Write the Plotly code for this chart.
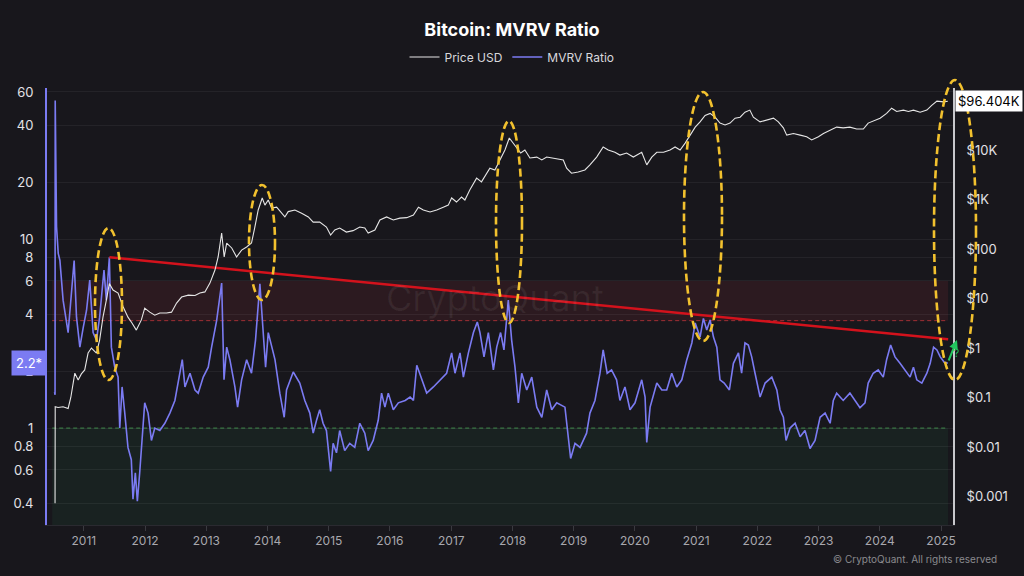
import math
import plotly.graph_objects as go

# ---------------- data ----------------
MVRV_DATES = [
    "2010-07-10", "2010-07-13", "2010-07-14", "2010-07-22", "2010-08-01", "2010-08-11", "2010-08-30",
    "2010-09-29", "2010-10-19", "2010-11-04", "2010-11-18", "2010-12-08", "2010-12-28", "2011-01-17",
    "2011-02-05", "2011-02-25", "2011-03-17", "2011-04-05", "2011-05-01", "2011-05-15", "2011-06-02",
    "2011-06-14", "2011-07-04", "2011-07-24", "2011-08-03", "2011-08-17", "2011-09-02", "2011-09-21",
    "2011-10-11", "2011-10-21", "2011-11-04", "2011-11-16", "2011-11-30", "2011-12-13", "2011-12-30",
    "2012-01-19", "2012-02-08", "2012-02-28", "2012-03-29", "2012-04-28", "2012-05-28", "2012-06-27",
    "2012-07-27", "2012-08-10", "2012-08-26", "2012-09-25", "2012-10-25", "2012-11-13", "2012-12-13",
    "2013-01-12", "2013-02-01", "2013-03-03", "2013-04-02", "2013-04-16", "2013-05-02", "2013-05-21",
    "2013-06-20", "2013-07-06", "2013-07-30", "2013-08-29", "2013-09-27", "2013-10-21", "2013-11-16",
    "2013-12-06", "2013-12-20", "2014-01-05", "2014-02-14", "2014-03-15", "2014-04-10", "2014-04-24",
    "2014-06-03", "2014-07-12", "2014-08-11", "2014-09-10", "2014-09-30", "2014-10-20", "2014-11-08",
    "2014-11-28", "2014-12-18", "2015-01-12", "2015-01-27", "2015-02-16", "2015-03-07", "2015-04-06",
    "2015-05-06", "2015-06-05", "2015-07-05", "2015-08-04", "2015-08-24", "2015-09-23", "2015-10-23",
    "2015-11-12", "2015-12-02", "2015-12-22", "2016-01-21", "2016-02-20", "2016-04-01", "2016-04-30",
    "2016-05-20", "2016-06-09", "2016-07-08", "2016-08-07", "2016-09-16", "2016-10-26", "2016-12-04",
    "2017-01-03", "2017-01-23", "2017-02-22", "2017-03-14", "2017-04-13", "2017-05-13", "2017-06-05",
    "2017-06-21", "2017-07-15", "2017-08-10", "2017-09-09", "2017-09-29", "2017-10-22", "2017-11-11",
    "2017-12-07", "2017-12-27", "2018-01-16", "2018-02-05", "2018-02-25", "2018-03-27", "2018-04-26",
    "2018-05-26", "2018-06-25", "2018-07-24", "2018-08-23", "2018-09-22", "2018-11-10", "2018-11-30",
    "2018-12-14", "2019-01-09", "2019-02-08", "2019-03-19", "2019-04-08", "2019-05-08", "2019-06-07",
    "2019-06-26", "2019-07-20", "2019-08-15", "2019-09-14", "2019-10-04", "2019-11-03", "2019-12-03",
    "2020-01-02", "2020-02-11", "2020-03-02", "2020-03-12", "2020-04-01", "2020-05-11", "2020-06-10",
    "2020-07-09", "2020-08-08", "2020-09-07", "2020-10-07", "2020-11-06", "2020-12-06", "2020-12-26",
    "2021-01-24", "2021-02-13", "2021-03-05", "2021-03-25", "2021-04-14", "2021-05-04", "2021-05-23",
    "2021-06-17", "2021-07-18", "2021-08-11", "2021-09-10", "2021-09-29", "2021-10-19", "2021-11-08",
    "2021-11-28", "2021-12-18", "2022-01-17", "2022-02-16", "2022-03-28", "2022-04-27", "2022-05-16",
    "2022-06-05", "2022-06-21", "2022-07-15", "2022-08-14", "2022-09-13", "2022-10-12", "2022-11-11",
    "2022-12-11", "2023-01-10", "2023-02-09", "2023-03-11", "2023-03-30", "2023-04-19", "2023-05-28",
    "2023-07-07", "2023-08-06", "2023-09-05", "2023-10-05", "2023-10-24", "2023-11-23", "2023-12-23",
    "2024-01-22", "2024-02-11", "2024-03-06", "2024-04-01", "2024-05-01", "2024-05-31", "2024-06-30",
    "2024-07-20", "2024-08-09", "2024-09-08", "2024-10-08", "2024-10-28", "2024-11-17", "2024-12-07",
    "2024-12-27", "2025-01-20", "2025-02-10",
]
MVRV_VALUES = [
    1.55, 1.5, 54, 11.6, 8.4, 7.7, 4.75,
    3.2, 5.2, 7.7, 3.86, 2.68, 3.4, 4.2,
    6.06, 3.2, 2.92, 3.86, 6.85, 4.75, 8.0,
    2.68, 2.1, 1.86, 1.0, 1.65, 1.2, 0.79,
    0.68, 0.42, 0.58, 0.41, 0.58, 0.83, 1.36,
    1.2, 0.86, 1.0, 0.97, 1.06, 1.2, 1.4,
    1.95, 2.3, 1.65, 1.95, 1.59, 1.53, 1.86,
    2.1, 2.68, 3.7, 5.85, 1.8, 2.68, 2.3,
    1.65, 1.29, 1.8, 2.3, 1.95, 2.92, 5.8,
    3.2, 2.1, 3.2, 2.3, 1.53, 1.14, 1.59,
    1.98, 1.73, 1.4, 1.2, 0.94, 1.1, 1.25,
    1.06, 0.97, 0.59, 0.83, 0.74, 0.97, 0.76,
    0.83, 0.79, 1.06, 0.94, 0.76, 0.86, 1.1,
    1.53, 1.29, 1.53, 1.25, 1.36, 1.4, 1.46,
    1.4, 2.15, 1.8, 1.53, 1.65, 1.8, 1.95,
    2.5, 1.95, 2.5, 1.86, 2.5, 3.2, 3.64,
    3.2, 2.38, 3.2, 2.03, 2.68, 3.2, 2.59,
    4.75, 2.92, 2.1, 1.36, 1.95, 1.59, 1.86,
    1.29, 1.14, 1.59, 1.25, 1.36, 1.29, 0.86,
    0.69, 0.83, 0.79, 0.94, 1.2, 1.4, 1.95,
    2.59, 1.95, 2.03, 1.8, 1.4, 1.65, 1.25,
    1.36, 1.8, 1.46, 0.84, 1.29, 1.73, 1.59,
    1.59, 1.95, 1.65, 1.8, 2.3, 2.82, 3.6,
    3.03, 3.8, 3.3, 3.73, 3.03, 2.68, 1.8,
    1.73, 1.59, 2.2, 2.5, 1.95, 2.82, 2.75,
    2.38, 1.95, 1.46, 1.73, 1.86, 1.59, 1.25,
    1.14, 0.86, 1.0, 1.06, 0.9, 0.97, 0.78,
    0.86, 1.14, 1.2, 1.06, 1.4, 1.53, 1.4,
    1.53, 1.4, 1.28, 1.36, 1.73, 1.95, 2.03,
    1.86, 2.3, 2.75, 2.38, 2.2, 2.03, 1.86,
    2.1, 1.8, 1.73, 1.95, 2.2, 2.68, 2.59,
    2.38, 2.23, 2.2,
]

PRICE_DATES = [
    "2010-07-10", "2010-07-13", "2010-07-14", "2010-07-31", "2010-08-30", "2010-09-29", "2010-10-15",
    "2010-11-08", "2010-11-28", "2010-12-17", "2011-01-06", "2011-01-26", "2011-02-15", "2011-03-17",
    "2011-04-05", "2011-04-25", "2011-05-15", "2011-06-02", "2011-06-24", "2011-07-24", "2011-08-23",
    "2011-09-21", "2011-10-15", "2011-11-10", "2011-12-10", "2011-12-30", "2012-01-29", "2012-02-28",
    "2012-03-29", "2012-05-08", "2012-06-07", "2012-07-07", "2012-08-06", "2012-09-15", "2012-10-25",
    "2012-11-23", "2012-12-23", "2013-01-22", "2013-02-21", "2013-03-12", "2013-04-02", "2013-04-17",
    "2013-05-02", "2013-06-01", "2013-06-30", "2013-07-30", "2013-08-29", "2013-09-27", "2013-10-17",
    "2013-11-06", "2013-11-30", "2013-12-16", "2014-01-05", "2014-01-25", "2014-02-24", "2014-03-25",
    "2014-04-14", "2014-05-04", "2014-06-13", "2014-07-23", "2014-09-01", "2014-09-30", "2014-11-08",
    "2014-12-18", "2015-01-12", "2015-02-06", "2015-03-07", "2015-04-16", "2015-05-26", "2015-07-05",
    "2015-08-04", "2015-08-24", "2015-10-03", "2015-11-02", "2015-12-12", "2016-01-21", "2016-02-29",
    "2016-04-10", "2016-05-20", "2016-06-19", "2016-07-18", "2016-08-27", "2016-10-06", "2016-11-14",
    "2016-12-14", "2017-01-03", "2017-02-01", "2017-03-03", "2017-03-23", "2017-04-22", "2017-06-01",
    "2017-06-30", "2017-07-20", "2017-08-19", "2017-09-18", "2017-10-18", "2017-11-17", "2017-12-13",
    "2018-01-06", "2018-01-30", "2018-02-19", "2018-03-16", "2018-04-15", "2018-05-26", "2018-06-25",
    "2018-07-24", "2018-09-01", "2018-10-31", "2018-11-20", "2018-12-19", "2019-01-28", "2019-03-09",
    "2019-04-08", "2019-05-18", "2019-06-26", "2019-07-26", "2019-09-04", "2019-10-04", "2019-11-13",
    "2019-12-23", "2020-02-11", "2020-03-12", "2020-04-11", "2020-05-11", "2020-06-20", "2020-07-29",
    "2020-08-28", "2020-09-27", "2020-10-27", "2020-11-26", "2020-12-26", "2021-01-24", "2021-02-23",
    "2021-03-25", "2021-04-24", "2021-05-23", "2021-06-22", "2021-07-22", "2021-08-21", "2021-09-20",
    "2021-10-19", "2021-11-17", "2021-12-08", "2022-01-17", "2022-02-26", "2022-04-07", "2022-05-06",
    "2022-06-05", "2022-06-25", "2022-08-04", "2022-09-13", "2022-10-22", "2022-11-21", "2022-12-31",
    "2023-01-30", "2023-03-11", "2023-04-19", "2023-05-28", "2023-07-07", "2023-08-16", "2023-09-25",
    "2023-10-24", "2023-12-03", "2024-01-03", "2024-02-11", "2024-03-12", "2024-04-11", "2024-05-21",
    "2024-06-20", "2024-07-20", "2024-08-29", "2024-10-08", "2024-11-06", "2024-12-07", "2025-01-16",
    "2025-02-10",
]
PRICE_VALUES = [
    0.00075, 0.00075, 0.065, 0.063, 0.065, 0.06, 0.1,
    0.31, 0.225, 0.3, 0.36, 0.79, 1.0, 0.79,
    1.45, 4.2, 9.3, 20, 14.8, 12.9, 6.8,
    4.2, 3.2, 2.3, 3.7, 6.4, 5.3, 4.6,
    5.1, 5.1, 5.3, 8.1, 10.7, 11.7, 11.5,
    12.9, 13.6, 20.5, 37.6, 69, 211, 69,
    132, 105, 69, 95, 110, 132, 278,
    614, 1075, 772, 977, 670, 700, 530,
    445, 570, 614, 530, 445, 350, 350,
    278, 192, 242, 265, 220, 235, 278,
    265, 210, 242, 385, 445, 385, 420,
    430, 485, 700, 614, 560, 614, 700,
    770, 1075, 890, 1120, 977, 1570, 2700,
    2270, 2860, 4300, 3950, 6300, 10000, 17500,
    13800, 11000, 8700, 10000, 6900, 7200, 6300,
    7200, 6900, 6300, 4300, 3400, 3600, 3950,
    5000, 7200, 11500, 10000, 9000, 7900, 8700,
    7200, 9000, 5000, 7200, 9000, 9000, 10000,
    11500, 10000, 13800, 20000, 29000, 37000, 50000,
    55000, 46000, 35000, 32000, 35000, 44000, 46000,
    58000, 64000, 46000, 37000, 40000, 44000, 37000,
    28000, 20000, 21500, 20000, 18500, 16000, 18500,
    21500, 25000, 29000, 28000, 29000, 26500, 26500,
    35000, 40000, 44000, 55000, 70000, 60000, 64000,
    60000, 64000, 58000, 64000, 80000, 97000, 94000,
    96404,
]

TREND_DATES = ["2011-06-02", "2025-02-12"]
TREND_VALUES = [8.0, 2.95]

MVRV_TICKS = [0.4, 0.6, 0.8, 1, 2, 4, 6, 8, 10, 20, 40, 60]
PRICE_TICKS = [0.001, 0.01, 0.1, 1, 10, 100, 1000, 10000]
PRICE_TICK_TEXT = ["$0.001", "$0.01", "$0.1", "$1", "$10", "$100", "$1K", "$10K"]
YEARS = list(range(2011, 2026))

OVERHEAT_LOW, OVERHEAT_HIGH = 3.7, 6.0
UNDERVALUED = 1.0
LAST_MVRV = 2.2
LAST_MVRV_LABEL = "2.2*"
LAST_PRICE = 96404
LAST_PRICE_LABEL = "$96.404K"

# -------------------------------- styling --------------------------------
BG = "#18171c"
PURPLE = "#7b7bf2"
FONT = "Inter, Roboto, 'Noto Sans', sans-serif"

W, H = 1024, 576
L, R, T, B = 47, 71, 88, 51
PW, PH = W - L - R, H - T - B


def px_to_paper(xp, yp):
    return (xp - L) / PW, (H - B - yp) / PH


# highlight ellipses (pixel boxes: x0, y0, x1, y1)
ELLIPSES = [
    (95, 228, 122, 380),
    (249, 185, 275, 300),
    (496, 121, 522, 323),
    (684, 92, 722, 341),
    (934, 80, 976, 380),
]

fig = go.Figure()

fig.add_trace(go.Scatter(
    x=PRICE_DATES, y=PRICE_VALUES, name="Price USD", yaxis="y2",
    mode="lines", line=dict(color="#e6e6e6", width=1.1),
))
fig.add_trace(go.Scatter(
    x=MVRV_DATES, y=MVRV_VALUES, name="MVRV Ratio", yaxis="y",
    mode="lines", line=dict(color=PURPLE, width=1.6),
))
fig.add_trace(go.Scatter(
    x=TREND_DATES, y=TREND_VALUES, yaxis="y", mode="lines", showlegend=False,
    line=dict(color="#d3121c", width=2.5), hoverinfo="skip",
))

band_x0, band_x1 = "2010-06-26", "2025-02-12"
shapes = [
    dict(type="rect", xref="x", yref="y", x0=band_x0, x1=band_x1, y0=OVERHEAT_LOW, y1=OVERHEAT_HIGH,
         fillcolor="rgba(150,40,52,0.17)", line=dict(width=0), layer="below"),
    dict(type="rect", xref="x", yref="y", x0=band_x0, x1=band_x1, y0=0.2, y1=UNDERVALUED,
         fillcolor="rgba(40,110,70,0.13)", line=dict(width=0), layer="below"),
    dict(type="line", xref="x", yref="y", x0=band_x0, x1=band_x1, y0=OVERHEAT_LOW, y1=OVERHEAT_LOW,
         line=dict(color="rgba(200,55,60,0.75)", width=1, dash="4px,3px"), layer="below"),
    dict(type="line", xref="x", yref="y", x0=band_x0, x1=band_x1, y0=UNDERVALUED, y1=UNDERVALUED,
         line=dict(color="rgba(70,165,80,0.75)", width=1, dash="4px,3px"), layer="below"),
]
for (x0, y0, x1, y1) in ELLIPSES:
    px0, py1 = px_to_paper(x0, y0)
    px1, py0 = px_to_paper(x1, y1)
    shapes.append(dict(type="circle", xref="paper", yref="paper", x0=px0, x1=px1, y0=py0, y1=py1,
                       line=dict(color="#f2c12e", width=2.6, dash="8px,4px"), layer="above"))

ax_head = px_to_paper(957, 340)
q_pos = px_to_paper(961, 353)
wm_pos = px_to_paper(495, 298)
copy_pos = px_to_paper(999, 559)

annotations = [
    dict(text="CryptoQuant", xref="paper", yref="paper", x=wm_pos[0], y=wm_pos[1], showarrow=False,
         font=dict(family=FONT, size=36, color="rgba(255,255,255,0.06)")),
    dict(text=LAST_MVRV_LABEL, xref="paper", yref="y", x=0, y=math.log10(LAST_MVRV), xanchor="right",
         yanchor="middle", showarrow=False, bgcolor=PURPLE, borderpad=4,
         font=dict(family=FONT, size=13, color="white")),
    dict(text=LAST_PRICE_LABEL, xref="paper", yref="y2", x=1, xshift=2, y=math.log10(LAST_PRICE),
         xanchor="left", yanchor="middle", showarrow=False, bgcolor="white", borderpad=2,
         font=dict(family=FONT, size=13, color="black")),
    dict(text="", xref="paper", yref="paper", x=ax_head[0], y=ax_head[1], showarrow=True,
         ax=-9, ay=22, arrowhead=2, arrowsize=0.9, arrowwidth=2, arrowcolor="#22c55e"),
    dict(text="?", xref="paper", yref="paper", x=q_pos[0], y=q_pos[1], showarrow=False,
         font=dict(family=FONT, size=10, color="#22c55e")),
    dict(text="© CryptoQuant. All rights reserved", xref="paper", yref="paper", x=copy_pos[0],
         y=copy_pos[1], xanchor="right", yanchor="middle", showarrow=False,
         font=dict(family=FONT, size=10, color="#8a8a8e")),
]

fig.update_layout(
    width=W, height=H,
    margin=dict(l=L, r=R, t=T, b=B),
    paper_bgcolor=BG, plot_bgcolor=BG,
    font=dict(family=FONT, color="#d8d8dc"),
    title=dict(text="<b>Bitcoin: MVRV Ratio</b>", x=0.5, xref="container", xanchor="center",
               y=1 - 30 / H, yanchor="middle", font=dict(family=FONT, size=18, color="white")),
    legend=dict(orientation="h", xref="container", yref="container", x=0.5, xanchor="center",
                y=1 - 57 / H, yanchor="middle", font=dict(family=FONT, size=12, color="#d8d8dc"),
                itemwidth=30, bgcolor="rgba(0,0,0,0)"),
    xaxis=dict(type="date", range=["2010-05-26", "2025-03-13"],
               tickvals=[f"{y}-01-01" for y in YEARS], ticktext=[str(y) for y in YEARS],
               ticks="outside", ticklen=5, tickcolor="#3a3a40", showgrid=False,
               showline=True, linecolor="#2a2a30", linewidth=1, zeroline=False,
               tickfont=dict(family=FONT, size=12, color="#a8a8ae")),
    yaxis=dict(type="log", range=[math.log10(0.307), 1.799], tickvals=MVRV_TICKS,
               ticktext=[str(v) for v in MVRV_TICKS], showgrid=True, gridcolor="rgba(255,255,255,0.055)",
               showline=True, linecolor=PURPLE, linewidth=2, ticks="", ticklabelstandoff=9,
               zeroline=False, tickfont=dict(family=FONT, size=13, color="#e2e2e6")),
    yaxis2=dict(type="log", overlaying="y", side="right", range=[-3.576, 5.253], tickvals=PRICE_TICKS,
                ticktext=PRICE_TICK_TEXT, showgrid=False, showline=True, linecolor="#c8c8cc", linewidth=2,
                ticks="", ticklabelstandoff=9, zeroline=False,
                tickfont=dict(family=FONT, size=13, color="#e2e2e6")),
    shapes=shapes,
    annotations=annotations,
    showlegend=True,
)

fig.write_html("out.html", config={"displayModeBar": False})

# remove the browser's default page margin so the 1024x576 figure fills the window exactly
with open("out.html", "r", encoding="utf-8") as fh:
    html = fh.read()
html = html.replace("<head>", "<head><style>html,body{margin:0;padding:0;overflow:hidden;background:#18171c;}</style>", 1)
with open("out.html", "w", encoding="utf-8") as fh:
    fh.write(html)
